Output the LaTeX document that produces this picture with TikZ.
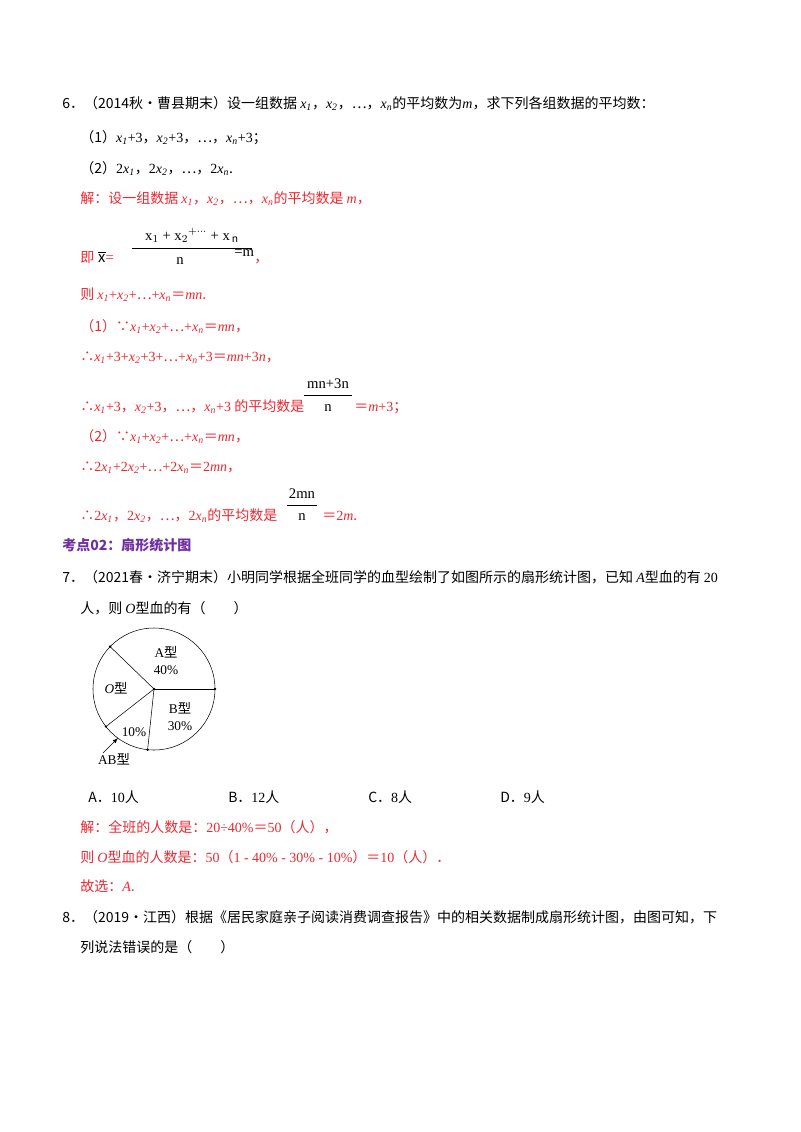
\documentclass[tikz,border=0pt]{standalone}
\usepackage{fontspec}
\setmainfont{Noto Sans CJK SC}
\newfontfamily\lat{Liberation Serif}
\definecolor{ans}{RGB}{235,40,50}
\definecolor{kd}{RGB}{112,48,160}
\newcommand{\vx}[1]{{\lat\itshape x}\textsubscript{\lat\itshape #1}}
\newcommand{\vi}[1]{{\lat\itshape #1}}
\begin{document}
\begin{tikzpicture}[x=0.75pt,y=-0.75pt,
  t/.style={anchor=base west,inner sep=0,font=\fontsize{10.5}{12}\selectfont},
  r/.style={t,text=ans},
  frac/.style={anchor=base,inner sep=0,font=\lat\fontsize{11}{12}\selectfont},
  pl/.style={anchor=base,inner sep=0,font=\fontsize{10}{11}\selectfont}]
\useasboundingbox (0,0) rectangle (800,1132);
\node[t] (l1) at (62,108) {6．（2014秋•曹县期末）设一组数据 \vx1，\vx2，…，\vx{n}的平均数为\vi{m}，求下列各组数据的平均数：};
\node[t] (l2) at (80,142) {（1）\vx1{\lat+3}，\vx2{\lat+3}，…，\vx{n}{\lat+3}；};
\node[t] (l3) at (80,173) {（2）{\lat 2}\vx1，{\lat 2}\vx2，…，{\lat 2}\vx{n}.};
\node[r] (a1) at (80,203) {解：设一组数据 \vx1，\vx2，…，\vx{n}的平均数是 \vi{m}，};
\node[r] (a2) at (80,262) {即};
\node[frac] (xb) at (106,262) {$\overline{\mathrm{x}}$\textcolor{ans}{=}};
\node[frac] (n1) at (192,240) {x$_1$ + x$_2$$^{+\cdots}$ + x$_{\,\mathrm n}$};
\draw (132,248) -- (252,248);
\node[frac] (d1) at (180,264) {n};
\node[frac,anchor=base west] (m1) at (234,256) {=m};
\node[r] at (254,262) {，};
\node[r] (a3) at (80,299) {则 \vx1{\lat+}\vx2{\lat+}…{\lat+}\vx{n}＝\vi{mn}.};
\node[r] (a4) at (80,331) {（1）∵\vx1{\lat+}\vx2{\lat+}…{\lat+}\vx{n}＝\vi{mn}，};
\node[r] (a5) at (80,361) {∴\vx1{\lat+3+}\vx2{\lat+3+}…{\lat+}\vx{n}{\lat+3}＝\vi{mn}{\lat+3}\vi{n}，};
\node[r] (a6) at (80,411) {∴\vx1{\lat+3}，\vx2{\lat+3}，…，\vx{n}{\lat+3} 的平均数是};
\node[frac] (n2) at (328,388) {mn+3n};
\draw (304,395) -- (352,395);
\node[frac] (d2) at (328,411) {n};
\node[r] at (354,411) {＝\vi{m}{\lat+3}；};
\node[r] (a7) at (80,441) {（2）∵\vx1{\lat+}\vx2{\lat+}…{\lat+}\vx{n}＝\vi{mn}，};
\node[r] (a8) at (80,471) {∴{\lat 2}\vx1{\lat+2}\vx2{\lat+}…{\lat+2}\vx{n}＝{\lat 2}\vi{mn}，};
\node[r] (a9) at (80,520) {∴{\lat 2}\vx1，{\lat 2}\vx2，…，{\lat 2}\vx{n}的平均数是};
\node[frac] (n3) at (302,498) {2mn};
\draw (287,505) -- (317,505);
\node[frac] (d3) at (302,520) {n};
\node[r] at (322,520) {＝{\lat 2}\vi{m}.};
\node[t,text=kd,font=\fontsize{10.5}{12}\selectfont\bfseries] (kd) at (62,550) {考点02：扇形统计图};
\node[t] (q7) at (62,582) {7．（2021春•济宁期末）小明同学根据全班同学的血型绘制了如图所示的扇形统计图，已知 \vi{A}型血的有 {\lat 20}};
\node[t] (q7b) at (80,613) {人，则 \vi{O}型血的有（　　）};
% pie
\coordinate (c) at (154,689);
\draw (c) circle[radius=61];
\foreach \a in {-136,0,96,142} \draw (c) -- ++(\a:61);
\foreach \a in {-136,0,96,142} \fill (c) ++(\a:61) circle[radius=1.3];
\fill (c) circle[radius=1.3];
\node[pl] (pa) at (166,657) {{\lat A}型};
\node[pl] (pa2) at (166,674) {{\lat 40\%}};
\node[pl] (pb) at (180,713) {{\lat B}型};
\node[pl] (pb2) at (180,730) {{\lat 30\%}};
\node[pl] (po) at (116,693) {{\lat\itshape O}型};
\node[pl] (pab) at (134,736) {{\lat 10\%}};
\node[pl] (lab) at (114,764) {{\lat AB}型};
\coordinate (as) at (103,753);
\coordinate (ae) at (118,738);
\draw[-latex] (as) -- (ae);
\node[t] (oA) at (88,802) {A．{\lat 10}人};
\node[t] (oB) at (228,802) {B．{\lat 12}人};
\node[t] (oC) at (368,802) {C．{\lat 8}人};
\node[t] (oD) at (500,802) {D．{\lat 9}人};
\node[r] (b1) at (80,832) {解：全班的人数是：{\lat 20÷40\%}＝{\lat 50}（人），};
\node[r] (b2) at (80,862) {则 \vi{O}型血的人数是：{\lat 50}（{\lat 1 - 40\% - 30\% - 10\%}）＝{\lat 10}（人）．};
\node[r] (b3) at (80,891) {故选：\vi{A}.};
\node[t] (q8) at (62,922) {8．（2019•江西）根据《居民家庭亲子阅读消费调查报告》中的相关数据制成扇形统计图，由图可知，下};
\node[t] (q8b) at (80,952) {列说法错误的是（　　）};
\end{tikzpicture}
\end{document}
